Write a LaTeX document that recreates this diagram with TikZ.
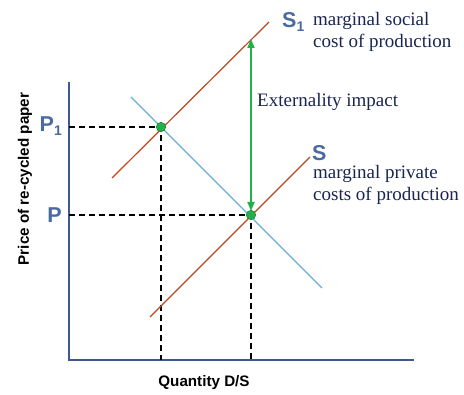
\documentclass[tikz,border=0pt]{standalone}
\usepackage{fontspec}
\setmainfont{Liberation Serif}
\newfontfamily\arialfont{Liberation Sans}
\usetikzlibrary{arrows.meta}
\definecolor{supred}{HTML}{C4441C}
\definecolor{demblue}{HTML}{6AAEDC}
\definecolor{axisblue}{HTML}{3D5A8A}
\definecolor{lblblue}{HTML}{4A6AA4}
\definecolor{arrgreen}{HTML}{22B04A}
\definecolor{txtnavy}{HTML}{1A2550}
\newcommand{\lowsub}[1]{\raisebox{-0.4ex}{\fontsize{14}{14}\selectfont #1}}
\tikzset{
  axisline/.style={axisblue, line width=1.1pt},
  supline/.style={supred, line width=1.2pt},
  demline/.style={demblue, line width=1.2pt},
  guide/.style={black, line width=1.6pt, dash pattern=on 6pt off 4pt},
  eqdot/.style={circle, fill=arrgreen, draw=arrgreen!60!black, line width=0.4pt, minimum size=9.5pt, inner sep=0pt},
  curvelabel/.style={font=\arialfont\bfseries\fontsize{21.5}{21.5}\selectfont, text=lblblue, inner sep=0pt},
  note/.style={font=\fontsize{19}{22.5}\selectfont, text=txtnavy, align=left, inner sep=0pt},
  axislabel/.style={font=\arialfont\bfseries\fontsize{15.2}{16}\selectfont, text=black, inner sep=0pt},
}
\begin{document}
\begin{tikzpicture}[x=1pt, y=-1pt]
\useasboundingbox (0,0) rectangle (464,395);
% axes
\coordinate (O) at (69,360);
\coordinate (ytop) at (69,82);
\coordinate (xend) at (414,360);
\draw[axisline] (ytop) -- (O) -- (xend);
% curves
\coordinate (s1a) at (112,178);
\coordinate (s1b) at (269,22);
\coordinate (sa) at (150,317);
\coordinate (sb) at (310,157);
\coordinate (da) at (131,97);
\coordinate (db) at (322,288);
\coordinate (top) at (251,39);
\coordinate (p1ax) at (69,127);
\coordinate (pax) at (69,215);
\coordinate (q1ax) at (161,360);
\coordinate (qax) at (251,360);
% guides
\draw[guide] (p1ax) -- (161,127) -- (q1ax);
\draw[guide] (pax) -- (251,215) -- (qax);
\draw[supline] (s1a) -- (s1b);
\draw[supline] (sa) -- (sb);
\draw[demline] (da) -- (db);
\node[eqdot] (e1) at (161,127) {};
\draw[arrgreen, line width=1.8pt, {Triangle[length=9pt,width=7pt]}-{Triangle[length=9pt,width=7pt]}] (251,211) -- (top);
\node[eqdot] (e2) at (251,215) {};
% labels
\node[curvelabel, anchor=east] (lp1) at (62,126) {P\lowsub{1}};
\node[curvelabel, anchor=east] (lp) at (62,215) {P};
\node[curvelabel, anchor=west] (ls1) at (282,22) {S\lowsub{1}};
\node[curvelabel, anchor=west] (ls) at (312,153) {S};
\node[note, anchor=north west] (n1) at (313,12) {marginal social\\cost of production};
\node[note, anchor=west] (n2) at (257,102) {Externality impact};
\node[note, anchor=north west] (n3) at (313,165) {marginal private\\costs of production};
\node[axislabel] (xl) at (204,383) {Quantity D/S};
\node[axislabel, rotate=90] (yl) at (25,179) {Price of re-cycled paper};
\end{tikzpicture}
\end{document}
